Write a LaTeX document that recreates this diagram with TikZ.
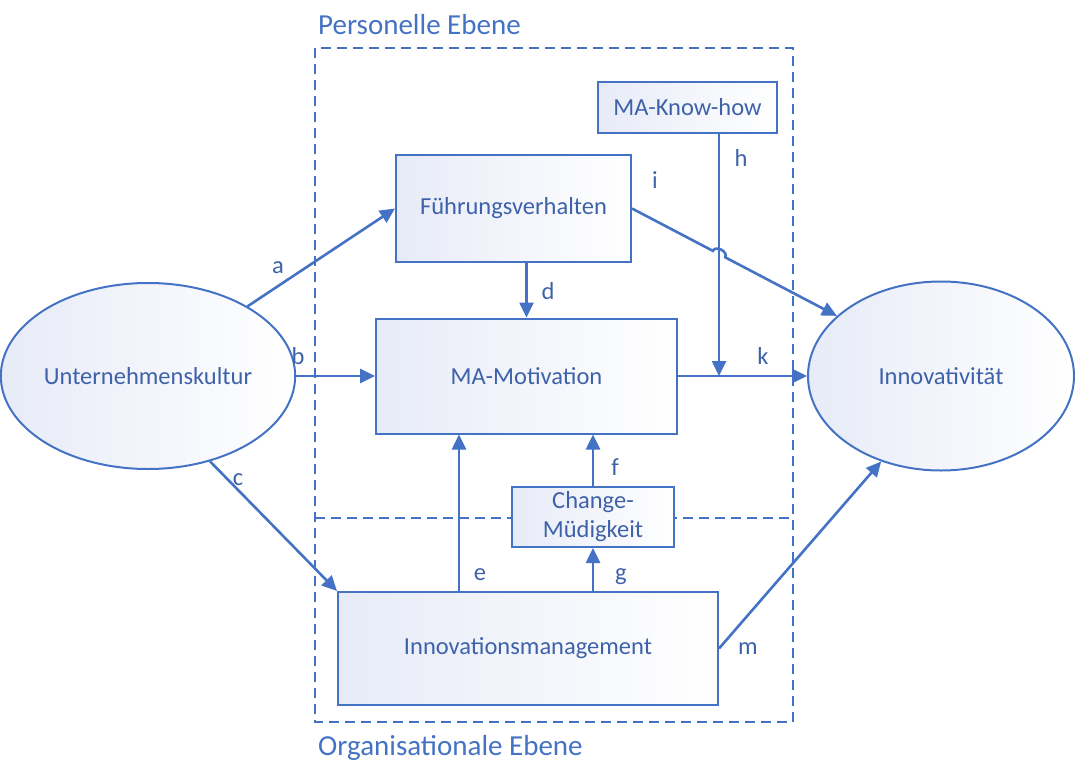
\documentclass[tikz,border=0pt]{standalone}
\usepackage{fontspec}
\setmainfont{Carlito}
\usetikzlibrary{arrows.meta}
\usetikzlibrary{shapes.geometric}
\usetikzlibrary{calc}
\definecolor{mablue}{RGB}{68,114,196}
\definecolor{matext}{RGB}{62,98,170}
\definecolor{mafill}{RGB}{231,235,247}

\begin{document}
\begin{tikzpicture}[x=1pt, y=-1pt,
		font=\fontsize{24.5}{29}\selectfont,
		box/.style={draw=mablue, line width=2pt, left color=mafill, right color=white, text=matext, inner sep=0pt, align=center},
		kreis/.style={ellipse, draw=mablue, line width=2pt, left color=mafill, right color=white, text=matext, inner sep=0pt},
		pfeil/.style={draw=mablue, line width=2.6pt, -{Triangle[length=15pt, width=14pt]}},
		ebene/.style={draw=mablue, line width=1.8pt, dash pattern=on 10pt off 6pt},
		lbl/.style={text=matext, inner sep=0pt},
		titel/.style={text=mablue, anchor=west, inner sep=0pt, font=\fontsize{29}{35}\selectfont}]
		\useasboundingbox (0,0) rectangle (1075,762);
		\draw[ebene] (315,48) rectangle (793,722);
		\draw[ebene] (315,518) -- (793,518);
		\node[titel] (pe) at (318,25) {Personelle Ebene};
		\node[titel] (oe) at (318,748) {Organisationale Ebene};
		\node[kreis, minimum width=280pt, minimum height=186pt] (uk) at (148,376) {Unternehmenskultur};
		\node[kreis, minimum width=266pt, minimum height=189pt] (iv) at (941,376) {Innovativität};
		\node[box, minimum width=179pt, minimum height=51pt] (kh) at (687.5,107.5) {MA-Know-how};
		\node[box, minimum width=235pt, minimum height=107pt] (fv) at (513.5,208.5) {Führungsverhalten};
		\node[box, minimum width=301pt, minimum height=115pt] (mot) at (526.5,376) {MA-Motivation};
		\node[box, minimum width=162pt, minimum height=60pt] (cm) at (593,517) {Change-\\Müdigkeit};
		\node[box, minimum width=380pt, minimum height=113pt] (im) at (528,648.5) {Innovationsmanagement};
		\coordinate (ex) at (459,0);
		\coordinate (hx) at (719,0);
		\coordinate (hk) at (719,376);
		\coordinate (hop) at (intersection of fv.east--iv.150 and hx--hk);
		\draw[pfeil] (uk.35) -- (fv.west);
		\draw[pfeil] (uk.east) -- (mot.west);
		\draw[pfeil] (uk.-54) -- (im.north west);
		\draw[pfeil] (mot.north |- fv.south) -- (mot.north);
		\draw[pfeil] (ex |- im.north) -- (ex |- mot.south);
		\draw[pfeil] (cm.north) -- (cm.north |- mot.south);
		\draw[pfeil] (cm.south |- im.north) -- (cm.south);
		\draw[pfeil] (kh.south -| hx) -- (hk);
		\draw[pfeil] (fv.east) -- ($(hop)!7pt!(fv.east)$) to[out=63, in=63, looseness=1.2] ($(hop)!7pt!(iv.150)$) -- (iv.150);
		\draw[pfeil] (mot.east) -- (iv.west);
		\draw[pfeil] (im.east) -- (iv.235);
		\node[lbl] (la) at (278,268) {a};
		\node[lbl] (lb) at (298,356) {b};
		\node[lbl] (lc) at (238,480) {c};
		\node[lbl] (ld) at (548,291) {d};
		\node[lbl] (le) at (480,575) {e};
		\node[lbl] (lf) at (615,467) {f};
		\node[lbl] (lg) at (621,577) {g};
		\node[lbl] (lh) at (741,158) {h};
		\node[lbl] (li) at (655,180) {i};
		\node[lbl] (lk) at (763,356) {k};
		\node[lbl] (lm) at (748,649) {m};
\end{tikzpicture}
\end{document}
